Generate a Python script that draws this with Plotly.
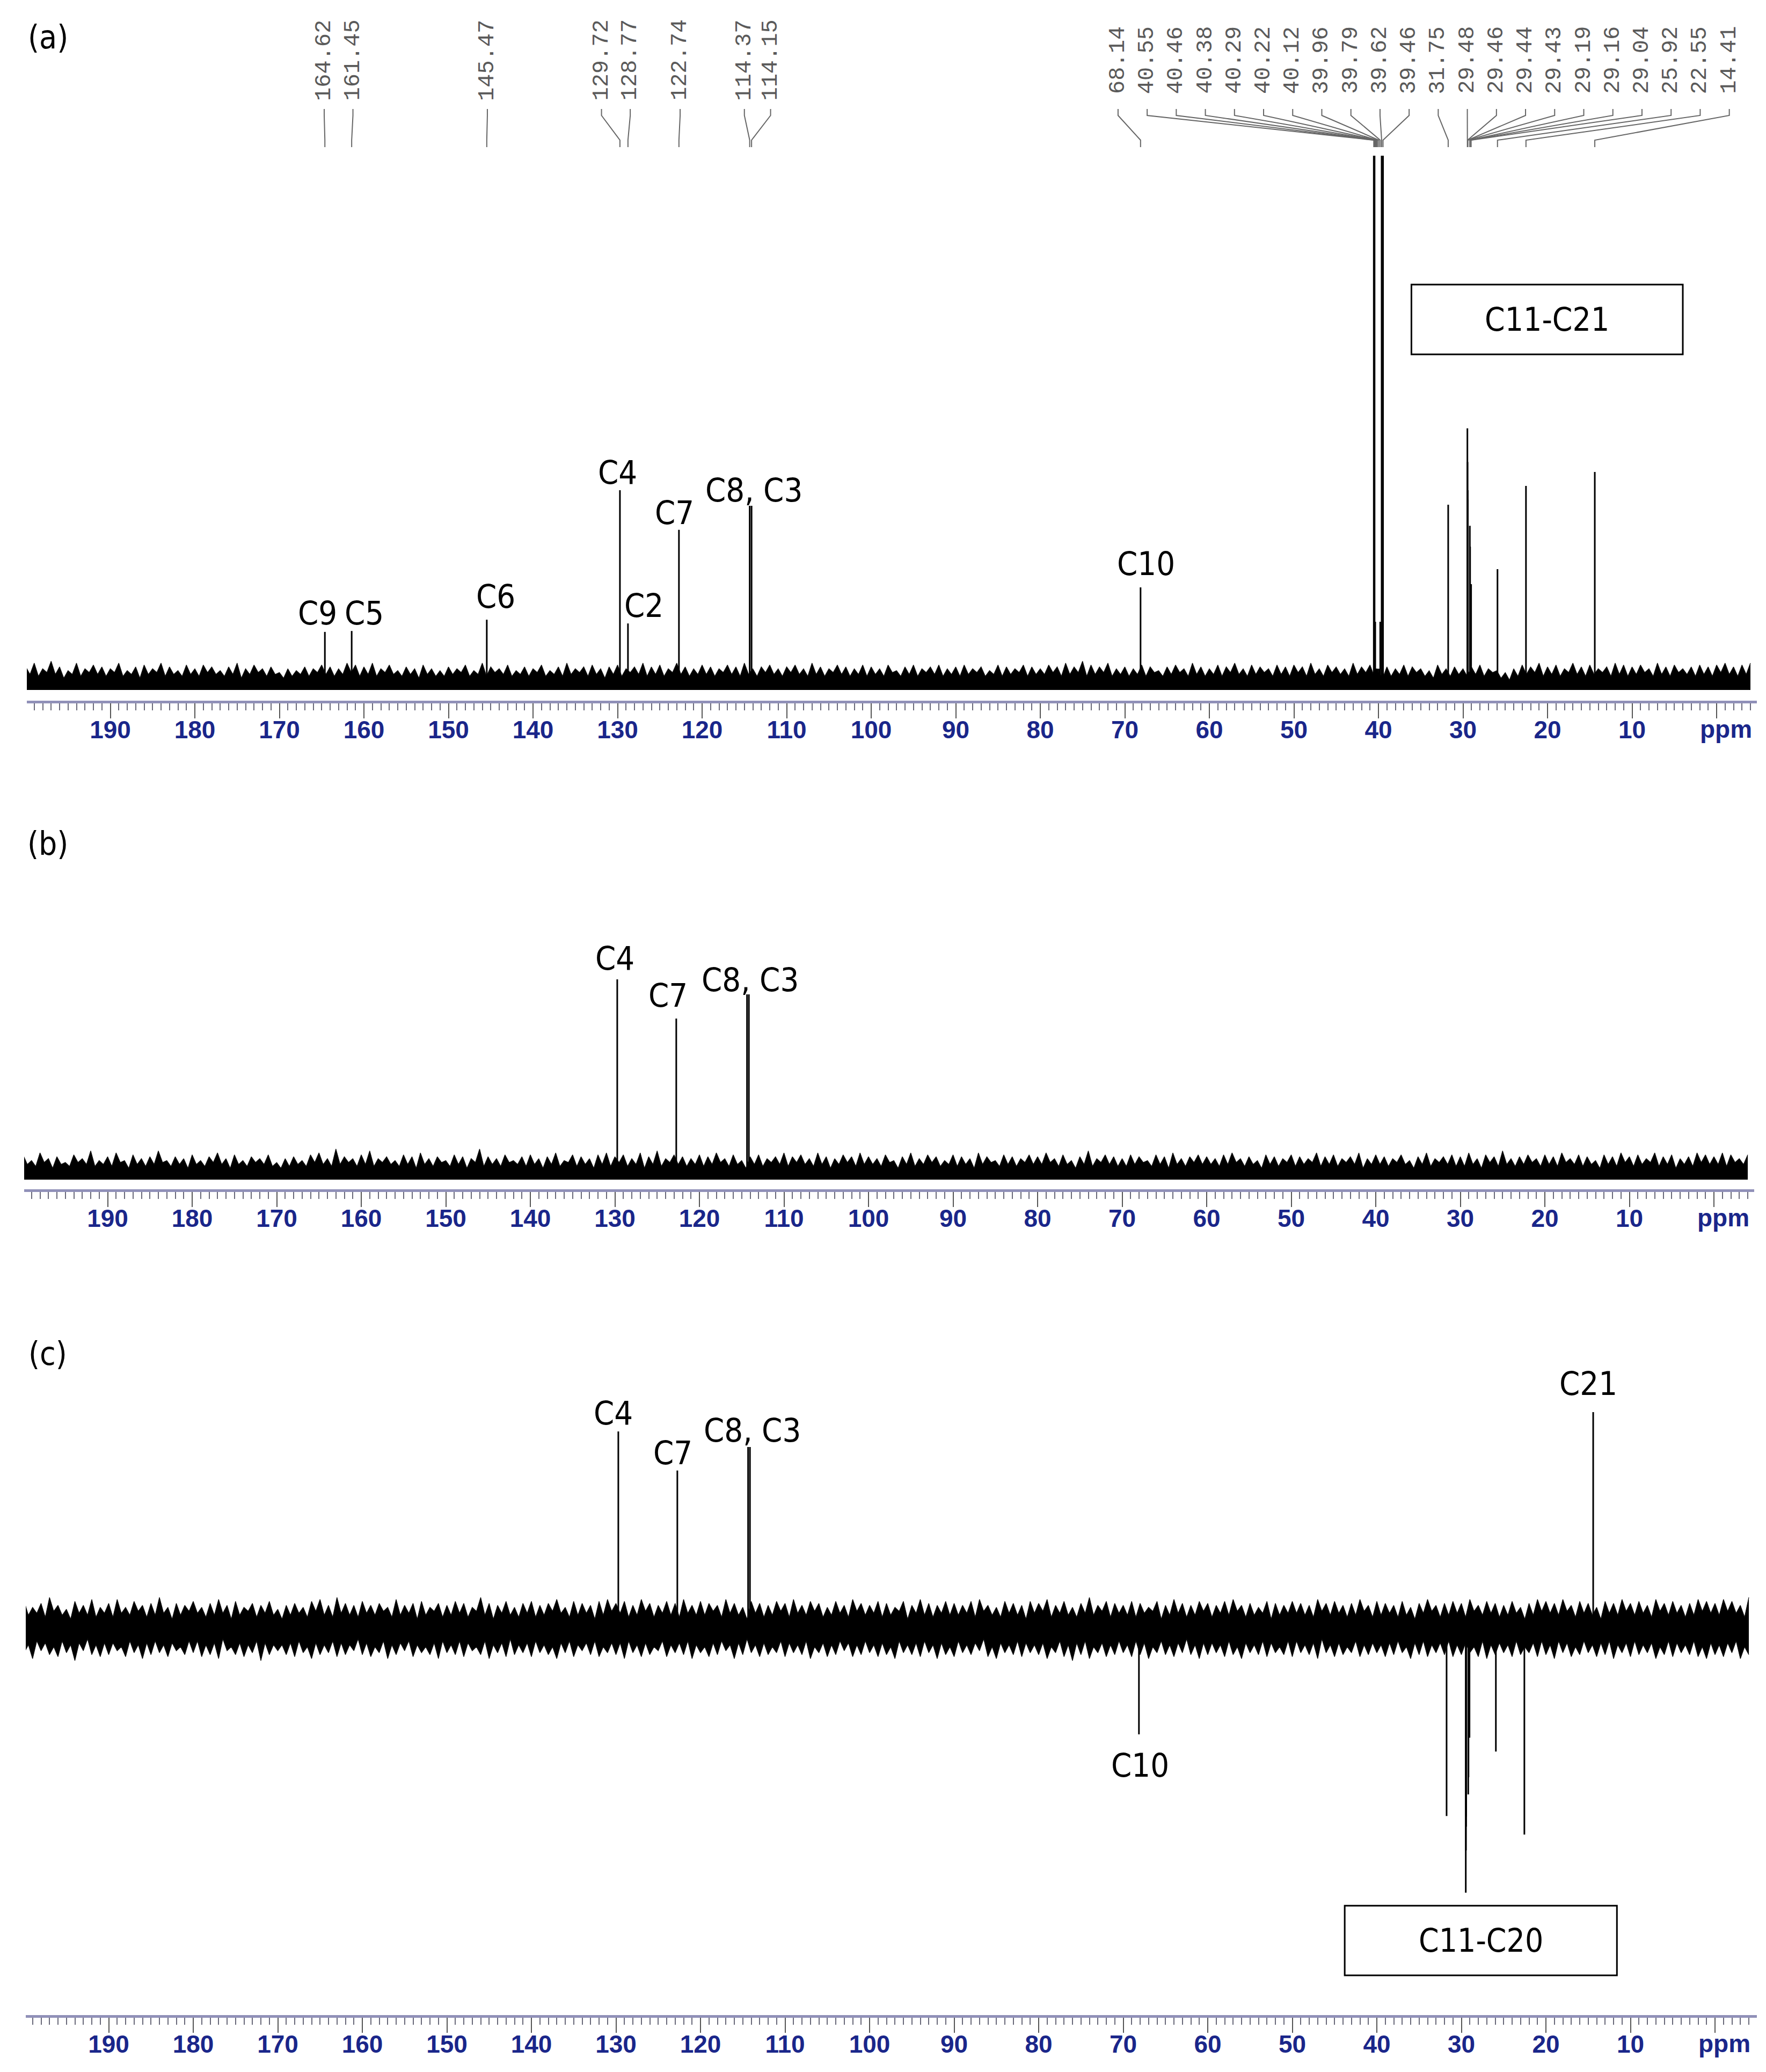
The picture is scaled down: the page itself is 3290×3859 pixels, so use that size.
import numpy as np
import plotly.graph_objects as go

W, H = 3290, 3859

# ---------------------------------------------------------------- data
# noise envelope read at 1 ppm steps (200 ... -4 ppm) plus the troughs half-way between,
# arbitrary intensity units (C4 = 100)
NOISE_PPM = np.arange(200, -5, -1)

NOISE_A_TOP = [
    6, 8, 5, 9, 6, 4, 8, 5, 7, 6,
    5, 8, 4, 6, 7, 5, 8, 6, 4, 7,
    5, 7, 6, 4, 6, 8, 5, 7, 5, 6,
    3, 5, 4, 6, 5, 7, 6, 5, 8, 7,
    6, 8, 5, 7, 4, 6, 5, 7, 5, 4,
    6, 5, 7, 4, 8, 6, 5, 7, 4, 6,
    5, 7, 4, 6, 8, 5, 6, 7, 5, 6,
    7, 5, 6, 8, 6, 7, 5, 8, 6, 5,
    7, 6, 5, 7, 6, 8, 5, 6, 7, 5,
    6, 7, 5, 8, 6, 5, 7, 6, 5, 7,
    6, 5, 7, 4, 6, 7, 5, 6, 7, 5,
    6, 7, 5, 6, 4, 7, 6, 5, 7, 6,
    5, 7, 6, 8, 6, 9, 7, 6, 8, 5,
    6, 5, 7, 6, 4, 6, 7, 5, 8, 6,
    5, 7, 6, 8, 5, 7, 6, 5, 7, 6,
    7, 6, 8, 5, 7, 6, 5, 8, 6, 7,
    3, 6, 5, 7, 6, 5, 4, 7, 5, 6,
    5, 6, 7, 5, 4, 3, 5, 7, 6, 8,
    6, 7, 5, 8, 6, 7, 5, 6, 8, 7,
    6, 7, 5, 8, 6, 7, 5, 6, 7, 6,
    7, 8, 6, 7, 8,
]
NOISE_A_TROUGH = [
    2, 1, 3, 2, 0, 2, 1, 3, 2, 1,
    3, 1, 2, 0, 2, 3, 1, 2, 1, 2,
    1, 3, 2, 1, 2, 0, 2, 3, 1, 2,
    0, 1, 2, 1, 3, 2, 1, 2, 3, 1,
    2, 1, 3, 2, 1, 2, 0, 2, 1, 1,
    2, 3, 1, 2, 1, 3, 2, 1, 2, 1,
    3, 1, 2, 1, 2, 3, 1, 2, 0, 2,
    1, 3, 2, 1, 2, 1, 3, 2, 1, 2,
    2, 1, 3, 2, 1, 2, 1, 3, 2, 1,
    3, 2, 1, 2, 1, 3, 2, 1, 2, 1,
    2, 1, 3, 1, 2, 1, 3, 2, 1, 2,
    1, 2, 3, 1, 2, 1, 2, 3, 1, 2,
    2, 3, 1, 2, 3, 1, 2, 3, 1, 2,
    1, 2, 1, 3, 1, 2, 3, 1, 2, 1,
    2, 1, 3, 2, 1, 2, 3, 1, 2, 1,
    3, 1, 2, 1, 3, 2, 1, 2, 3, 1,
    0, 1, 2, 1, 3, 1, 0, 2, 1, 2,
    1, 2, 1, 3, 0, -1, 1, 2, 3, 1,
    2, 1, 3, 2, 1, 2, 3, 1, 2, 1,
    2, 3, 1, 2, 1, 3, 2, 1, 2, 1,
    3, 2, 1, 2,
]

NOISE_B_TOP = [
    9, 6, 10, 7, 8, 5, 9, 7, 11, 6,
    8, 10, 6, 9, 7, 8, 11, 6, 8, 7,
    9, 6, 8, 10, 7, 9, 6, 8, 7, 9,
    5, 7, 8, 6, 9, 10, 7, 12, 8, 7,
    9, 11, 7, 8, 6, 9, 8, 10, 7, 8,
    6, 9, 8, 7, 12, 8, 7, 9, 6, 8,
    9, 7, 8, 10, 6, 9, 8, 7, 9, 10,
    8, 9, 7, 10, 8, 11, 7, 9, 8, 7,
    9, 8, 10, 7, 9, 6, 8, 9, 7, 8,
    10, 8, 9, 7, 10, 8, 7, 9, 8, 10,
    8, 7, 9, 6, 8, 10, 7, 9, 8, 6,
    9, 8, 7, 10, 8, 6, 9, 8, 7, 9,
    8, 10, 7, 9, 6, 8, 11, 7, 9, 8,
    7, 9, 8, 6, 9, 8, 10, 7, 8, 9,
    8, 7, 9, 10, 7, 8, 6, 9, 8, 7,
    9, 8, 7, 10, 8, 9, 7, 8, 10, 7,
    9, 8, 7, 9, 6, 8, 10, 7, 8, 9,
    8, 10, 7, 9, 8, 11, 7, 8, 9, 7,
    9, 8, 10, 7, 9, 8, 6, 9, 8, 10,
    8, 9, 7, 10, 8, 9, 7, 8, 10, 9,
    8, 10, 9, 7, 9,
]
NOISE_B_TROUGH = [
    4, 3, 5, 2, 4, 3, 5, 4, 3, 4,
    3, 5, 2, 4, 3, 4, 5, 3, 4, 2,
    4, 3, 5, 4, 2, 4, 3, 5, 4, 3,
    2, 3, 4, 3, 5, 4, 3, 4, 5, 3,
    4, 3, 5, 4, 3, 4, 2, 4, 3, 5,
    3, 4, 2, 5, 3, 4, 3, 5, 4, 3,
    4, 2, 4, 3, 5, 3, 4, 2, 4, 3,
    5, 3, 4, 2, 4, 3, 5, 4, 3, 4,
    3, 4, 5, 3, 4, 2, 4, 3, 5, 4,
    3, 5, 4, 3, 4, 2, 4, 5, 3, 4,
    4, 3, 5, 2, 4, 3, 4, 5, 3, 4,
    3, 4, 2, 4, 5, 3, 4, 3, 5, 4,
    4, 5, 3, 4, 2, 4, 3, 5, 4, 3,
    3, 4, 5, 3, 4, 2, 4, 3, 5, 4,
    4, 3, 4, 5, 3, 4, 2, 4, 3, 5,
    3, 4, 5, 3, 4, 3, 5, 4, 2, 4,
    4, 3, 5, 4, 2, 4, 3, 5, 4, 3,
    3, 4, 2, 5, 3, 4, 3, 4, 5, 3,
    4, 3, 5, 4, 3, 4, 2, 4, 3, 5,
    3, 4, 5, 3, 4, 2, 4, 3, 5, 4,
    4, 3, 5, 4,
]

NOISE_C_TOP = [
    14, 11, 13, 16, 12, 10, 14, 12, 15, 11,
    13, 15, 11, 14, 12, 13, 16, 11, 13, 12,
    14, 11, 13, 15, 12, 14, 11, 13, 12, 14,
    10, 12, 13, 11, 14, 15, 12, 16, 13, 12,
    14, 12, 13, 11, 15, 12, 13, 14, 11, 13,
    12, 14, 13, 11, 16, 13, 12, 14, 11, 13,
    14, 12, 13, 15, 11, 14, 13, 12, 14, 15,
    13, 14, 12, 15, 13, 12, 14, 13, 15, 12,
    14, 13, 12, 15, 13, 11, 14, 13, 12, 14,
    13, 15, 12, 14, 13, 11, 14, 12, 15, 13,
    12, 14, 13, 11, 14, 12, 15, 13, 12, 14,
    13, 12, 14, 15, 12, 11, 14, 13, 12, 14,
    13, 15, 12, 14, 11, 13, 16, 12, 14, 13,
    12, 14, 13, 11, 14, 12, 15, 13, 12, 14,
    13, 12, 14, 15, 12, 13, 11, 14, 13, 12,
    14, 13, 12, 15, 13, 14, 12, 13, 15, 12,
    14, 13, 12, 14, 11, 13, 15, 12, 13, 14,
    13, 15, 12, 14, 13, 12, 14, 11, 13, 15,
    14, 13, 15, 12, 14, 13, 11, 14, 13, 15,
    13, 14, 12, 15, 13, 14, 12, 13, 15, 14,
    13, 15, 14, 12, 16,
]
NOISE_C_TOP_TROUGH = [
    7, 8, 6, 9, 7, 5, 8, 7, 6, 8,
    6, 8, 7, 9, 6, 7, 8, 5, 7, 9,
    8, 6, 7, 8, 5, 7, 9, 6, 8, 7,
    5, 7, 8, 6, 9, 7, 6, 8, 7, 6,
    8, 7, 9, 6, 7, 8, 5, 7, 9, 6,
    7, 8, 6, 9, 7, 5, 8, 7, 6, 8,
    6, 7, 9, 8, 6, 7, 8, 5, 7, 9,
    8, 6, 7, 9, 6, 8, 7, 6, 8, 7,
    7, 9, 6, 8, 7, 5, 8, 6, 7, 9,
    6, 8, 7, 9, 6, 7, 8, 6, 9, 7,
    8, 6, 7, 9, 5, 8, 7, 6, 8, 7,
    7, 8, 6, 9, 7, 6, 8, 7, 5, 8,
    9, 6, 8, 7, 6, 8, 7, 9, 6, 8,
    7, 6, 8, 9, 5, 7, 8, 6, 7, 9,
    6, 8, 7, 9, 6, 7, 8, 5, 7, 8,
    8, 7, 6, 9, 7, 8, 6, 7, 9, 6,
    7, 8, 6, 7, 5, 8, 9, 6, 7, 8,
    6, 9, 7, 8, 6, 7, 8, 5, 7, 9,
    8, 7, 9, 6, 8, 7, 5, 8, 7, 9,
    7, 8, 6, 9, 7, 8, 6, 7, 9, 8,
    7, 9, 8, 6,
]

NOISE_C_BOT = [
    -12, -15, -11, -13, -14, -12, -16, -11, -13, -14,
    -13, -11, -14, -12, -15, -13, -12, -14, -11, -13,
    -12, -14, -13, -15, -11, -13, -14, -12, -16, -13,
    -11, -13, -14, -12, -15, -13, -12, -14, -13, -11,
    -13, -14, -12, -15, -13, -11, -14, -12, -13, -15,
    -12, -13, -14, -11, -13, -15, -12, -14, -13, -12,
    -14, -12, -13, -15, -12, -14, -11, -13, -14, -12,
    -13, -15, -12, -14, -13, -11, -14, -12, -13, -15,
    -12, -14, -13, -11, -15, -13, -12, -14, -13, -12,
    -14, -12, -13, -15, -12, -14, -13, -11, -14, -13,
    -12, -14, -13, -15, -12, -13, -14, -12, -15, -13,
    -14, -12, -13, -11, -14, -15, -12, -13, -14, -12,
    -13, -15, -12, -14, -16, -13, -15, -12, -14, -13,
    -12, -14, -13, -15, -12, -13, -14, -12, -13, -15,
    -13, -12, -14, -13, -15, -12, -13, -14, -12, -13,
    -14, -12, -13, -15, -12, -14, -13, -12, -14, -13,
    -12, -14, -13, -12, -15, -13, -14, -12, -13, -14,
    -13, -12, -14, -15, -13, -12, -14, -13, -12, -14,
    -13, -15, -12, -14, -13, -12, -14, -13, -15, -12,
    -14, -13, -12, -15, -13, -14, -12, -13, -14, -15,
    -13, -14, -12, -15, -13,
]
NOISE_C_BOT_TROUGH = [
    -8, -6, -7, -9, -6, -8, -7, -5, -8, -7,
    -7, -9, -6, -8, -7, -6, -8, -7, -9, -6,
    -6, -8, -7, -5, -9, -7, -8, -6, -7, -8,
    -8, -7, -6, -9, -7, -8, -6, -7, -8, -5,
    -7, -9, -6, -8, -7, -6, -8, -9, -7, -6,
    -8, -6, -7, -9, -6, -8, -7, -5, -8, -7,
    -6, -8, -9, -7, -6, -8, -7, -6, -9, -7,
    -7, -6, -8, -7, -9, -6, -8, -7, -6, -8,
    -9, -7, -6, -8, -7, -5, -8, -7, -9, -6,
    -7, -8, -6, -9, -7, -8, -6, -7, -8, -6,
    -8, -7, -9, -6, -8, -7, -6, -8, -7, -9,
    -6, -8, -7, -5, -9, -7, -8, -6, -7, -8,
    -7, -9, -6, -8, -7, -6, -9, -7, -8, -6,
    -8, -6, -7, -9, -6, -8, -7, -5, -8, -7,
    -7, -8, -6, -9, -7, -8, -6, -7, -9, -6,
    -6, -8, -7, -5, -8, -7, -9, -6, -8, -7,
    -8, -7, -6, -9, -7, -6, -8, -7, -6, -8,
    -7, -9, -6, -8, -7, -8, -6, -9, -7, -6,
    -8, -6, -7, -9, -6, -8, -7, -6, -8, -7,
    -6, -8, -7, -9, -6, -7, -8, -6, -9, -7,
    -8, -7, -6, -9,
]

# (a) 13C spectrum
PEAKS_A_PPM = [164.62, 161.45, 145.47, 129.72, 128.77, 122.74, 114.37, 114.15, 68.14,
               40.55, 40.46, 40.38, 40.29, 40.22, 40.12, 39.96, 39.79, 39.62, 39.46,
               31.75, 29.48, 29.46, 29.44, 29.43, 29.19, 29.16, 29.04, 25.92, 22.55, 14.41]
PEAKS_A_INT = [24.6, 25.1, 31.1, 100, 29.1, 78.9, 91.7, 91.7, 48.3,
               278, 278, 30, 5, 5, 5, 5, 30, 278, 278,
               92.3, 132.9, 115, 100, 95, 81.1, 70, 50, 58.0, 102.3, 109.7]

# (b) DEPT-90
PEAKS_B_PPM = [129.72, 122.74, 114.37, 114.15]
PEAKS_B_INT = [100, 79.7, 92.2, 92.2]

# (c) DEPT-135
PEAKS_C_PPM = [129.72, 122.74, 114.37, 114.15, 68.14, 31.75, 29.48, 29.46, 29.44, 29.43,
               29.19, 29.16, 29.04, 25.92, 22.55, 14.41]
PEAKS_C_INT = [100, 80.2, 92.1, 92.1, -53.3, -94.6, -133.4, -112, -100, -95,
               -83.7, -75, -55, -62, -104, 109.8]

TICK_VALS = list(range(0, 200, 10))

# ---------------------------------------------------------------- layout
# pixel anchors of every panel (top/bottom of plot area, baseline, px per unit, x of 190 ppm)
PANELS = [
    dict(key="(a)", top=140, bottom=1297, base=1255, ppu=3.5, x190=197.5, left=42, right=3265,
         floor=-6.3, letter_y=61),
    dict(key="(b)", top=1600, bottom=2207, base=2175, ppu=3.59, x190=192.5, left=37, right=3260,
         floor=-3.9, letter_y=1563),
    dict(key="(c)", top=2420, bottom=3745, base=3026, ppu=3.68, x190=194.5, left=40, right=3265,
         floor=None, letter_y=2513),
]
PX_PER_PPM = 15.75

LABELS = [
    [("C9", 165.5, 34.6), ("C5", 160.0, 34.6), ("C6", 144.4, 43.7), ("C4", 130.0, 109.7),
     ("C2", 126.9, 38.6), ("C7", 123.3, 88.0), ("C8, C3", 113.9, 100), ("C10", 67.5, 61.1)],
    [("C4", 130.0, 110.9), ("C7", 123.7, 91.9), ("C8, C3", 114.0, 100)],
    [("C4", 130.3, 109.5), ("C7", 123.3, 89.4), ("C8, C3", 113.9, 100.8), ("C21", 15.0, 124.2),
     ("C10", 68.0, -69.0)],
]
BOXES = [("C11-C21", 36.1, 4.0, 209.4, 172.3), None, ("C11-C20", 43.8, 11.6, -140.0, -175.3)]

TOP_LABEL_X = [164.7, 161.3, 145.4, 131.9, 128.5, 122.6, 115.0, 111.9] + list(np.linspace(70.8, -1.5, 22))

LABEL_FONT = "DejaVu Sans Condensed, DejaVu Sans, sans-serif"
TICK_FONT = "Liberation Sans, Arial, sans-serif"
NAVY = "#1a268a"


def paper(px):
    return 1 - px / H


def spiky(peaks, troughs):
    # merge the 1 ppm maxima with the half-way minima into one edge
    xs, ys = [], []
    for k in range(min(len(NOISE_PPM), len(peaks))):
        xs.append(NOISE_PPM[k])
        ys.append(peaks[k])
        if k < len(troughs):
            xs.append(NOISE_PPM[k] - 0.5)
            ys.append(troughs[k])
    return xs, ys


fig = go.Figure()
axes = {}
annotations = []
shapes = []

for i, g in enumerate(PANELS):
    sfx = "" if i == 0 else str(i + 1)
    xa, ya = "x" + sfx, "y" + sfx
    x_left = 190 + (g["x190"] - g["left"]) / PX_PER_PPM
    x_right = 190 - (g["right"] - g["x190"]) / PX_PER_PPM
    y_lo = -(g["bottom"] - g["base"]) / g["ppu"]
    y_hi = (g["base"] - g["top"]) / g["ppu"]

    # noise band
    if i == 0:
        tx, ty = spiky(NOISE_A_TOP, NOISE_A_TROUGH)
        bx, by = tx, [g["floor"]] * len(tx)
    elif i == 1:
        tx, ty = spiky(NOISE_B_TOP, NOISE_B_TROUGH)
        bx, by = tx, [g["floor"]] * len(tx)
    else:
        tx, ty = spiky(NOISE_C_TOP, NOISE_C_TOP_TROUGH)
        bx, by = spiky(NOISE_C_BOT, NOISE_C_BOT_TROUGH)
    fig.add_trace(go.Scatter(x=bx, y=by, mode="lines", xaxis=xa, yaxis=ya,
                             line=dict(color="#111111", width=1.2 if i == 2 else 0),
                             hoverinfo="skip", showlegend=False))
    fig.add_trace(go.Scatter(x=tx, y=ty, mode="lines", xaxis=xa, yaxis=ya,
                             fill="tonexty", fillcolor="black",
                             line=dict(color="#111111", width=1.2),
                             hoverinfo="skip", showlegend=False))

    # peaks as sticks
    ppm = [PEAKS_A_PPM, PEAKS_B_PPM, PEAKS_C_PPM][i]
    inten = [PEAKS_A_INT, PEAKS_B_INT, PEAKS_C_INT][i]
    sx, sy = [], []
    for p, h in zip(ppm, inten):
        sx += [p, p, None]
        sy += [0, h, None]
    fig.add_trace(go.Scatter(x=sx, y=sy, mode="lines", xaxis=xa, yaxis=ya,
                             line=dict(color="black", width=3),
                             hoverinfo="skip", showlegend=False))

    axes["xaxis" + sfx] = dict(
        domain=[g["left"] / W, g["right"] / W], range=[x_left, x_right], anchor=ya,
        tickmode="array", tickvals=TICK_VALS,
        ticktext=["" if v == 0 else str(v) for v in TICK_VALS],
        ticks="outside", ticklen=28, tickwidth=2, tickcolor="#555555",
        ticklabelstandoff=-18,
        showline=True, linecolor="#9090b8", linewidth=5,
        showgrid=False, zeroline=False,
        tickfont=dict(family=TICK_FONT, size=46, color=NAVY, weight="bold"),
        minor=dict(dtick=1, tick0=0, ticks="outside", ticklen=13, tickwidth=2,
                   tickcolor="#6a6a7a", showgrid=False),
    )
    axes["yaxis" + sfx] = dict(domain=[paper(g["bottom"]), paper(g["top"])],
                               range=[y_lo, y_hi], anchor=xa, visible=False)

    annotations.append(dict(text="ppm", x=-1.1, xref=xa, y=paper(g["bottom"] + 53), yref="paper",
                            showarrow=False, xanchor="center", yanchor="middle",
                            font=dict(family=TICK_FONT, size=46, color=NAVY, weight="bold")))
    annotations.append(dict(text=g["key"], x=81 / W, y=paper(g["letter_y"]), xref="paper", yref="paper",
                            showarrow=False, xanchor="center", yanchor="middle",
                            font=dict(family=LABEL_FONT, size=60, color="black")))
    for txt, lx, ly in LABELS[i]:
        annotations.append(dict(text=txt, x=lx, y=ly, xref=xa, yref=ya, showarrow=False,
                                xanchor="center", yanchor="middle",
                                font=dict(family=LABEL_FONT, size=61, color="black")))
    if BOXES[i]:
        txt, bx0, bx1, by0, by1 = BOXES[i]
        shapes.append(dict(type="rect", xref=xa, yref=ya, x0=bx0, x1=bx1, y0=by0, y1=by1,
                           line=dict(color="black", width=3)))
        annotations.append(dict(text=txt, x=(bx0 + bx1) / 2, y=(by0 + by1) / 2, xref=xa, yref=ya,
                                showarrow=False, xanchor="center", yanchor="middle",
                                font=dict(family=LABEL_FONT, size=60, color="black")))

# chemical shift list with leader lines on top of (a)
for lx, p in zip(TOP_LABEL_X, PEAKS_A_PPM):
    annotations.append(dict(text=f"{p:.2f}", x=lx, xref="x", y=paper(104), yref="paper",
                            textangle=-90, showarrow=False, xanchor="center", yanchor="middle",
                            font=dict(family="Liberation Mono, DejaVu Sans Mono, monospace",
                                      size=42, color="#5a5a5a")))
    path = (f"M {lx},{paper(195)} L {lx},{paper(207)} "
            f"L {p},{paper(253)} L {p},{paper(266)}")
    shapes.append(dict(type="path", xref="x", yref="paper", path=path,
                       line=dict(color="#666666", width=2)))

fig.update_layout(
    width=W, height=H,
    margin=dict(l=0, r=0, t=0, b=0),
    paper_bgcolor="white", plot_bgcolor="white",
    showlegend=False,
    annotations=annotations,
    shapes=shapes,
    **axes,
)

fig.write_html("out.html")
